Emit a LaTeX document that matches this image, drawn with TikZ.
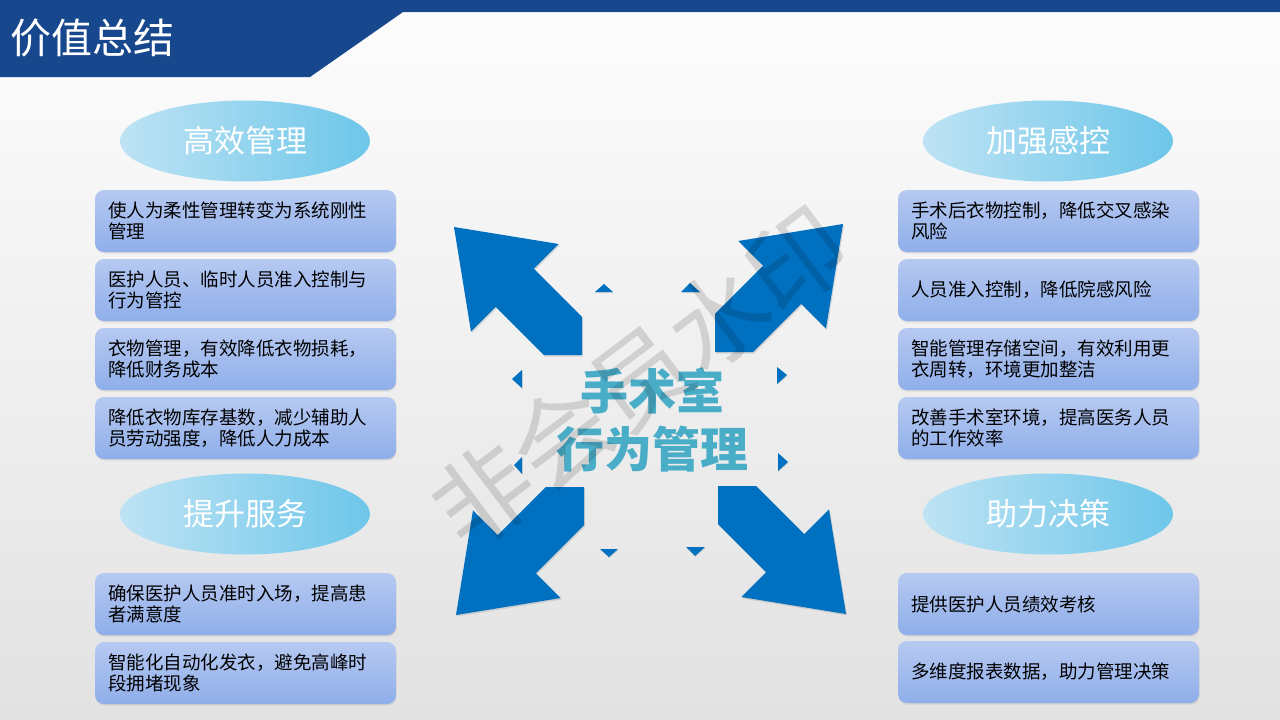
\documentclass[tikz,border=0pt]{standalone}
\usepackage{fontspec}
\setmainfont{Noto Sans CJK SC}
\usetikzlibrary{shapes.geometric,shadows}
\definecolor{hdr}{HTML}{17478D}
\definecolor{arrowblue}{HTML}{0070C0}
\definecolor{elL}{HTML}{BEE3F4}
\definecolor{elR}{HTML}{6DC6E9}
\definecolor{boxT}{HTML}{B6C9F1}
\definecolor{boxB}{HTML}{8FAEEA}
\definecolor{ctext}{HTML}{4AADC8}
\definecolor{bgT}{HTML}{FDFDFD}
\definecolor{bgB}{HTML}{E2E2E2}
\tikzset{
  infobox/.style={rounded corners=9pt, top color=boxT, bottom color=boxB, draw=none,
    minimum height=62pt, text width=275pt, inner xsep=13pt, inner ysep=0pt,
    align=left, font=\fontsize{18.5}{21.5}\selectfont, text=black,
    drop shadow={shadow xshift=0.6pt, shadow yshift=-1.6pt, opacity=0.18}},
  ovalhead/.style={ellipse, minimum width=250pt, minimum height=81pt, inner sep=0pt,
    left color=elL, right color=elR, draw=none, text=white,
    font=\fontsize{31}{31}\selectfont},
  bigarrowfill/.style={fill=arrowblue,
    drop shadow={shadow xshift=1pt, shadow yshift=-1.5pt, opacity=0.25}},
  smalltri/.style={fill=arrowblue,
    drop shadow={shadow xshift=0.5pt, shadow yshift=-1pt, opacity=0.25}},
  centertext/.style={text=ctext, font=\fontsize{48}{48}\bfseries, inner sep=0pt},
}
\begin{document}
\begin{tikzpicture}[x=1pt,y=-1pt]
\useasboundingbox (0,0) rectangle (1280,720);
% background
\shade[top color=bgT, bottom color=bgB] (0,0) rectangle (1280,720);
% header
\fill[hdr] (0,0) -- (1280,0) -- (1280,12) -- (403,12) -- (310,77) -- (0,77) -- cycle;
\node[anchor=west, text=white, font=\fontsize{41}{41}\selectfont, inner sep=0pt] (title) at (10,38) {价值总结};

% ellipses
\node[ovalhead] (e1) at (245,141) {高效管理};
\node[ovalhead] (e2) at (1048,141) {加强感控};
\node[ovalhead] (e3) at (245,514) {提升服务};
\node[ovalhead] (e4) at (1048,514) {助力决策};

% left boxes
\node[infobox] (l1) at (245.5,221) {使人为柔性管理转变为系统刚性\\管理};
\node[infobox] (l2) at (245.5,290) {医护人员、临时人员准入控制与\\行为管控};
\node[infobox] (l3) at (245.5,359) {衣物管理，有效降低衣物损耗，\\降低财务成本};
\node[infobox] (l4) at (245.5,428) {降低衣物库存基数，减少辅助人\\员劳动强度，降低人力成本};
\node[infobox] (l5) at (245.5,604) {确保医护人员准时入场，提高患\\者满意度};
\node[infobox] (l6) at (245.5,673) {智能化自动化发衣，避免高峰时\\段拥堵现象};

% right boxes
\node[infobox] (r1) at (1048.5,221) {手术后衣物控制，降低交叉感染\\风险};
\node[infobox] (r2) at (1048.5,290) {人员准入控制，降低院感风险};
\node[infobox] (r3) at (1048.5,359) {智能管理存储空间，有效利用更\\衣周转，环境更加整洁};
\node[infobox] (r4) at (1048.5,428) {改善手术室环境，提高医务人员\\的工作效率};
\node[infobox] (r5) at (1048.5,604) {提供医护人员绩效考核};
\node[infobox] (r6) at (1048.5,672) {多维度报表数据，助力管理决策};

% big arrows
\fill[bigarrowfill] (582,355) -- (582,316.8) -- (533.9,268.7) -- (558.7,244) -- (454,227) -- (471,331.7) -- (495.7,306.9) -- (543.8,355) -- cycle;
\fill[bigarrowfill] (715,352) -- (715,313.8) -- (763.1,265.7) -- (738.3,241) -- (843,224) -- (826,328.7) -- (801.3,303.9) -- (753.2,352) -- cycle;
\fill[bigarrowfill] (584,487) -- (584,525.2) -- (535.9,573.3) -- (560.7,598) -- (456,615) -- (473,510.3) -- (497.7,535.1) -- (545.8,487) -- cycle;
\fill[bigarrowfill] (718,486) -- (718,524.2) -- (766.1,572.3) -- (741.3,597) -- (846,614) -- (829,509.3) -- (804.3,534.1) -- (756.2,486) -- cycle;

% small triangles
\fill[smalltri] (595,292) -- (613,292) -- (604,284) -- cycle;
\fill[smalltri] (681,292) -- (700,292) -- (690,283) -- cycle;
\fill[smalltri] (512,379) -- (522,370) -- (522,388) -- cycle;
\fill[smalltri] (514,465) -- (522,457) -- (522,474) -- cycle;
\fill[smalltri] (787,375) -- (777,367) -- (777,384) -- cycle;
\fill[smalltri] (788,462) -- (778,453) -- (778,471) -- cycle;
\fill[smalltri] (600,549) -- (618,549) -- (609,557) -- cycle;
\fill[smalltri] (686,547) -- (705,547) -- (695,556) -- cycle;

% center text
\node[centertext] (c1) at (652,391) {手术室};
\node[centertext] (c2) at (652,449) {行为管理};

% watermark
\node[rotate=37, text=black, opacity=0.13, font=\fontsize{98}{98}\selectfont, inner sep=0pt] (wm) at (640,377) {非会员水印};
\end{tikzpicture}
\end{document}
